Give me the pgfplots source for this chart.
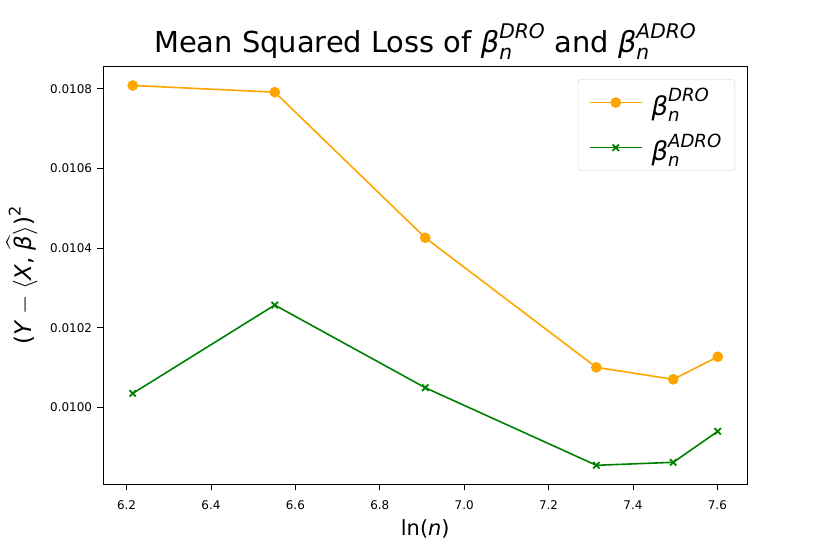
\documentclass[border=0pt]{standalone}
\usepackage{fontspec}
\setmainfont{DejaVu Sans}
\usepackage{amsmath}
\usepackage{pgfplots}
\pgfplotsset{compat=1.18}
\definecolor{mplorange}{HTML}{FFA500}
\definecolor{mplgreen}{HTML}{008000}
\newcommand{\bet}[1]{$\text{\itshape β}_{\text{\itshape n}}^{\text{\itshape #1}}$}
\begin{document}
\begin{tikzpicture}
\useasboundingbox (-103.5bp,-69.7bp) rectangle (726.5bp,484.3bp);
\begin{axis}[
  at={(0,0)}, anchor=south west,
  scale only axis, width=643.5bp, height=417.8bp,
  xmin=6.1453, xmax=7.6702, ymin=0.0098073, ymax=0.0108562,
  scaled x ticks=false, scaled y ticks=false,
  xtick={6.2,6.4,6.6,6.8,7.0,7.2,7.4,7.6},
  xticklabels={6.2,6.4,6.6,6.8,7.0,7.2,7.4,7.6},
  ytick={0.0100,0.0102,0.0104,0.0106,0.0108},
  yticklabels={0.0100,0.0102,0.0104,0.0106,0.0108},
  tick align=outside, tick pos=left,
  major tick length=6bp,
  tick style={black, line width=0.8bp},
  axis line style={line width=0.8bp},
  ticklabel style={font=\fontsize{12}{14}\selectfont},
  xticklabel style={yshift=-7bp},
  yticklabel style={xshift=-2bp},
  title={Mean Squared Loss of \bet{DRO} and \bet{ADRO}},
  title style={at={(0.5,1)}, anchor=base, yshift=8bp, font=\fontsize{29}{33}\selectfont},
  xlabel={ln(\textit{n})},
  xlabel style={at={(0.5,0)}, anchor=base, yshift=-51.4bp, font=\fontsize{21}{25}\selectfont},
  ylabel={$\text{(\textit{Y}}-\langle\text{\textit{X}, }\widehat{\text{\textit{β}}}\rangle\text{)}^{\text{2}}$},
  ylabel style={at={(-0.1267,0.5)}, anchor=center, font=\fontsize{23}{27}\selectfont},
  legend cell align=left,
  legend style={at={(0.9814,0.9694)}, anchor=north east, draw=black!20, rounded corners=3bp,
    font=\fontsize{26}{28}\selectfont, inner xsep=11bp, inner ysep=7bp, row sep=13bp},
  legend image code/.code={\draw[line width=1.6bp, mark repeat=2,mark phase=2,#1] plot coordinates {(0bp,0bp) (26bp,0bp) (52bp,0bp)}; \path (59bp,0bp);},
]
\addplot[color=mplorange, line width=1.6bp, mark=*, mark size=4.5bp, mark options={fill=mplorange, draw=mplorange}]
  coordinates {(6.2146,0.0108085) (6.5511,0.0107917) (6.9078,0.0104261) (7.3132,0.0101009) (7.4955,0.0100708) (7.6009,0.0101275)};
\addlegendentry{\bet{DRO}}
\addplot[color=mplgreen, line width=1.6bp, mark=x, mark size=4.5bp, mark options={line width=1.8bp}]
  coordinates {(6.2146,0.0100356) (6.5511,0.0102572) (6.9078,0.0100497) (7.3132,0.0098550) (7.4955,0.0098625) (7.6009,0.0099403)};
\addlegendentry{\bet{ADRO}}
\end{axis}
\end{tikzpicture}
\end{document}
